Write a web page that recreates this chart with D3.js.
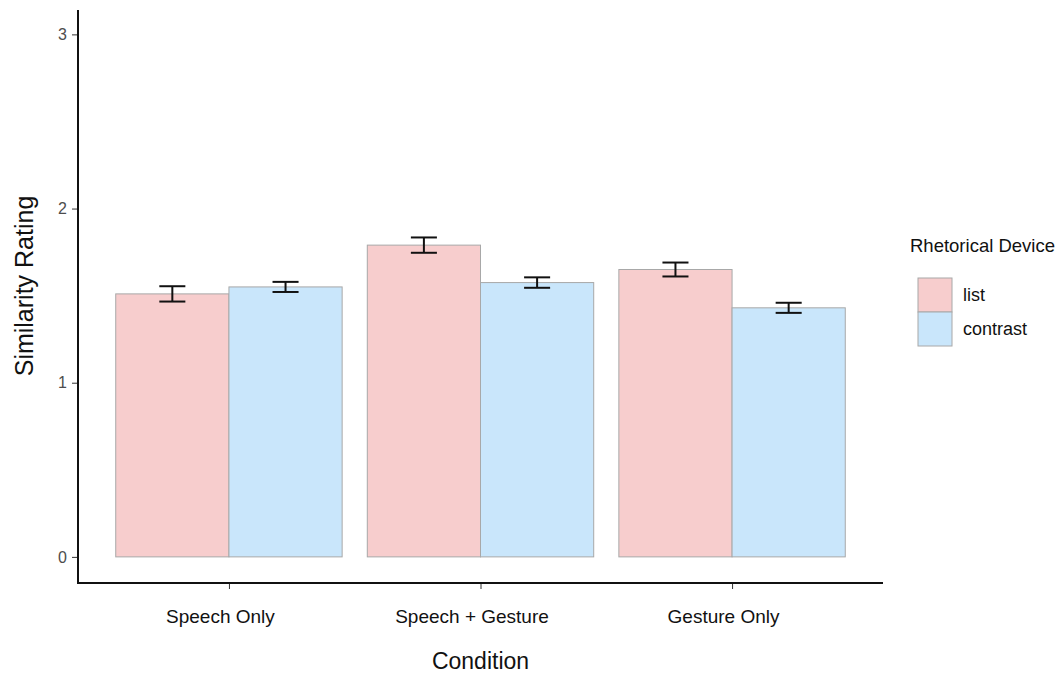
<!DOCTYPE html>
<html>
<head>
<meta charset="utf-8">
<script src="https://cdn.jsdelivr.net/npm/d3@7"></script>
<style>
  body { margin: 0; background: #fff; }
  text { font-family: "Liberation Sans", Arial, Helvetica, sans-serif; }
</style>
</head>
<body>
<div id="chart"></div>
<script>
var conditions = ["Speech Only", "Speech + Gesture", "Gesture Only"];
var devices = ["list", "contrast"];
var listMeans = [1.51, 1.79, 1.65];
var listSE = [0.044, 0.044, 0.04];
var contrastMeans = [1.55, 1.575, 1.43];
var contrastSE = [0.029, 0.03, 0.029];
var yTicks = [0, 1, 2, 3];

var rows = [];
conditions.forEach(function(c, i) {
  rows.push({ condition: c, device: "list", mean: listMeans[i], se: listSE[i] });
  rows.push({ condition: c, device: "contrast", mean: contrastMeans[i], se: contrastSE[i] });
});

var W = 1060, H = 673;
var plot = { left: 78, right: 883, top: 10, bottom: 583 };

var svg = d3.select("#chart").append("svg")
  .attr("width", W)
  .attr("height", H);

// ggplot-style discrete expansion of 0.6 on each side
var xPos = d3.scaleLinear()
  .domain([0.4, 3.6])
  .range([plot.left, plot.right]);

var y = d3.scaleLinear()
  .domain([-0.15, 3.14])
  .range([plot.bottom, plot.top]);

var color = d3.scaleOrdinal()
  .domain(devices)
  .range(["#f7cdcd", "#c9e6fb"]);

var dodge = 0.9;
var barW = dodge / devices.length;
var barPx = xPos(1 + barW) - xPos(1);

function barX(d) {
  var c = conditions.indexOf(d.condition) + 1;
  var k = devices.indexOf(d.device);
  return xPos(c - dodge / 2 + k * barW);
}

// Bars
svg.selectAll("rect.bar")
  .data(rows)
  .enter()
  .append("rect")
  .attr("class", "bar")
  .attr("x", barX)
  .attr("width", barPx)
  .attr("y", function(d) { return y(d.mean); })
  .attr("height", function(d) { return y(0) - y(d.mean); })
  .attr("fill", function(d) { return color(d.device); })
  .attr("stroke", "#a8a8a8")
  .attr("stroke-width", 1);

// Error bars
var capHalf = barPx * 0.115;
function cx(d) { return barX(d) + barPx / 2; }

var eb = svg.selectAll("g.err")
  .data(rows)
  .enter()
  .append("g")
  .attr("class", "err")
  .attr("stroke", "#111")
  .attr("stroke-width", 2);

eb.append("line")
  .attr("x1", cx).attr("x2", cx)
  .attr("y1", function(d) { return y(d.mean + d.se); })
  .attr("y2", function(d) { return y(d.mean - d.se); });
eb.append("line")
  .attr("x1", function(d) { return cx(d) - capHalf; })
  .attr("x2", function(d) { return cx(d) + capHalf; })
  .attr("y1", function(d) { return y(d.mean + d.se); })
  .attr("y2", function(d) { return y(d.mean + d.se); });
eb.append("line")
  .attr("x1", function(d) { return cx(d) - capHalf; })
  .attr("x2", function(d) { return cx(d) + capHalf; })
  .attr("y1", function(d) { return y(d.mean - d.se); })
  .attr("y2", function(d) { return y(d.mean - d.se); });

// Y axis
var yAxis = svg.append("g")
  .attr("transform", "translate(" + plot.left + ",0)")
  .call(d3.axisLeft(y).tickValues(yTicks).tickFormat(d3.format("d"))
    .tickSize(6).tickPadding(5).tickSizeOuter(0));
yAxis.select(".domain").remove();
yAxis.selectAll(".tick line").attr("stroke", "#333");
yAxis.selectAll(".tick text").attr("fill", "#4d4d4d").style("font-size", "16px");

// X axis
var xBand = d3.scalePoint()
  .domain(conditions)
  .range([xPos(1), xPos(3)]);
var xAxis = svg.append("g")
  .attr("transform", "translate(0," + plot.bottom + ")")
  .call(d3.axisBottom(xBand).tickSize(6).tickPadding(21).tickSizeOuter(0));
xAxis.select(".domain").remove();
xAxis.selectAll(".tick line").attr("stroke", "#333");
xAxis.selectAll(".tick text")
  .attr("fill", "#111")
  .attr("dx", -9)
  .style("font-size", "19px");

// Axis lines
svg.append("path")
  .attr("d", "M" + plot.left + "," + plot.top + "V" + plot.bottom + "H" + plot.right)
  .attr("fill", "none")
  .attr("stroke", "#111")
  .attr("stroke-width", 2);

// Axis titles
svg.append("text")
  .attr("x", (plot.left + plot.right) / 2)
  .attr("y", 669)
  .attr("text-anchor", "middle")
  .style("font-size", "23px")
  .attr("fill", "#111")
  .text("Condition");

svg.append("text")
  .attr("transform", "translate(33," + 286 + ") rotate(-90)")
  .attr("text-anchor", "middle")
  .style("font-size", "25px")
  .attr("fill", "#111")
  .text("Similarity Rating");

// Legend
var legend = svg.append("g").attr("transform", "translate(910,252)");
legend.append("text")
  .attr("x", 0)
  .attr("y", 0)
  .style("font-size", "18.5px")
  .attr("fill", "#111")
  .text("Rhetorical Device");

var keys = legend.selectAll("g.key")
  .data(devices)
  .enter()
  .append("g")
  .attr("class", "key")
  .attr("transform", function(d, i) { return "translate(8," + (26 + i * 34) + ")"; });

keys.append("rect")
  .attr("width", 34)
  .attr("height", 34)
  .attr("fill", function(d) { return color(d); })
  .attr("stroke", "#a8a8a8");

keys.append("text")
  .attr("x", 45)
  .attr("y", 23)
  .style("font-size", "18px")
  .attr("fill", "#111")
  .text(function(d) { return d; });
</script>
</body>
</html>
